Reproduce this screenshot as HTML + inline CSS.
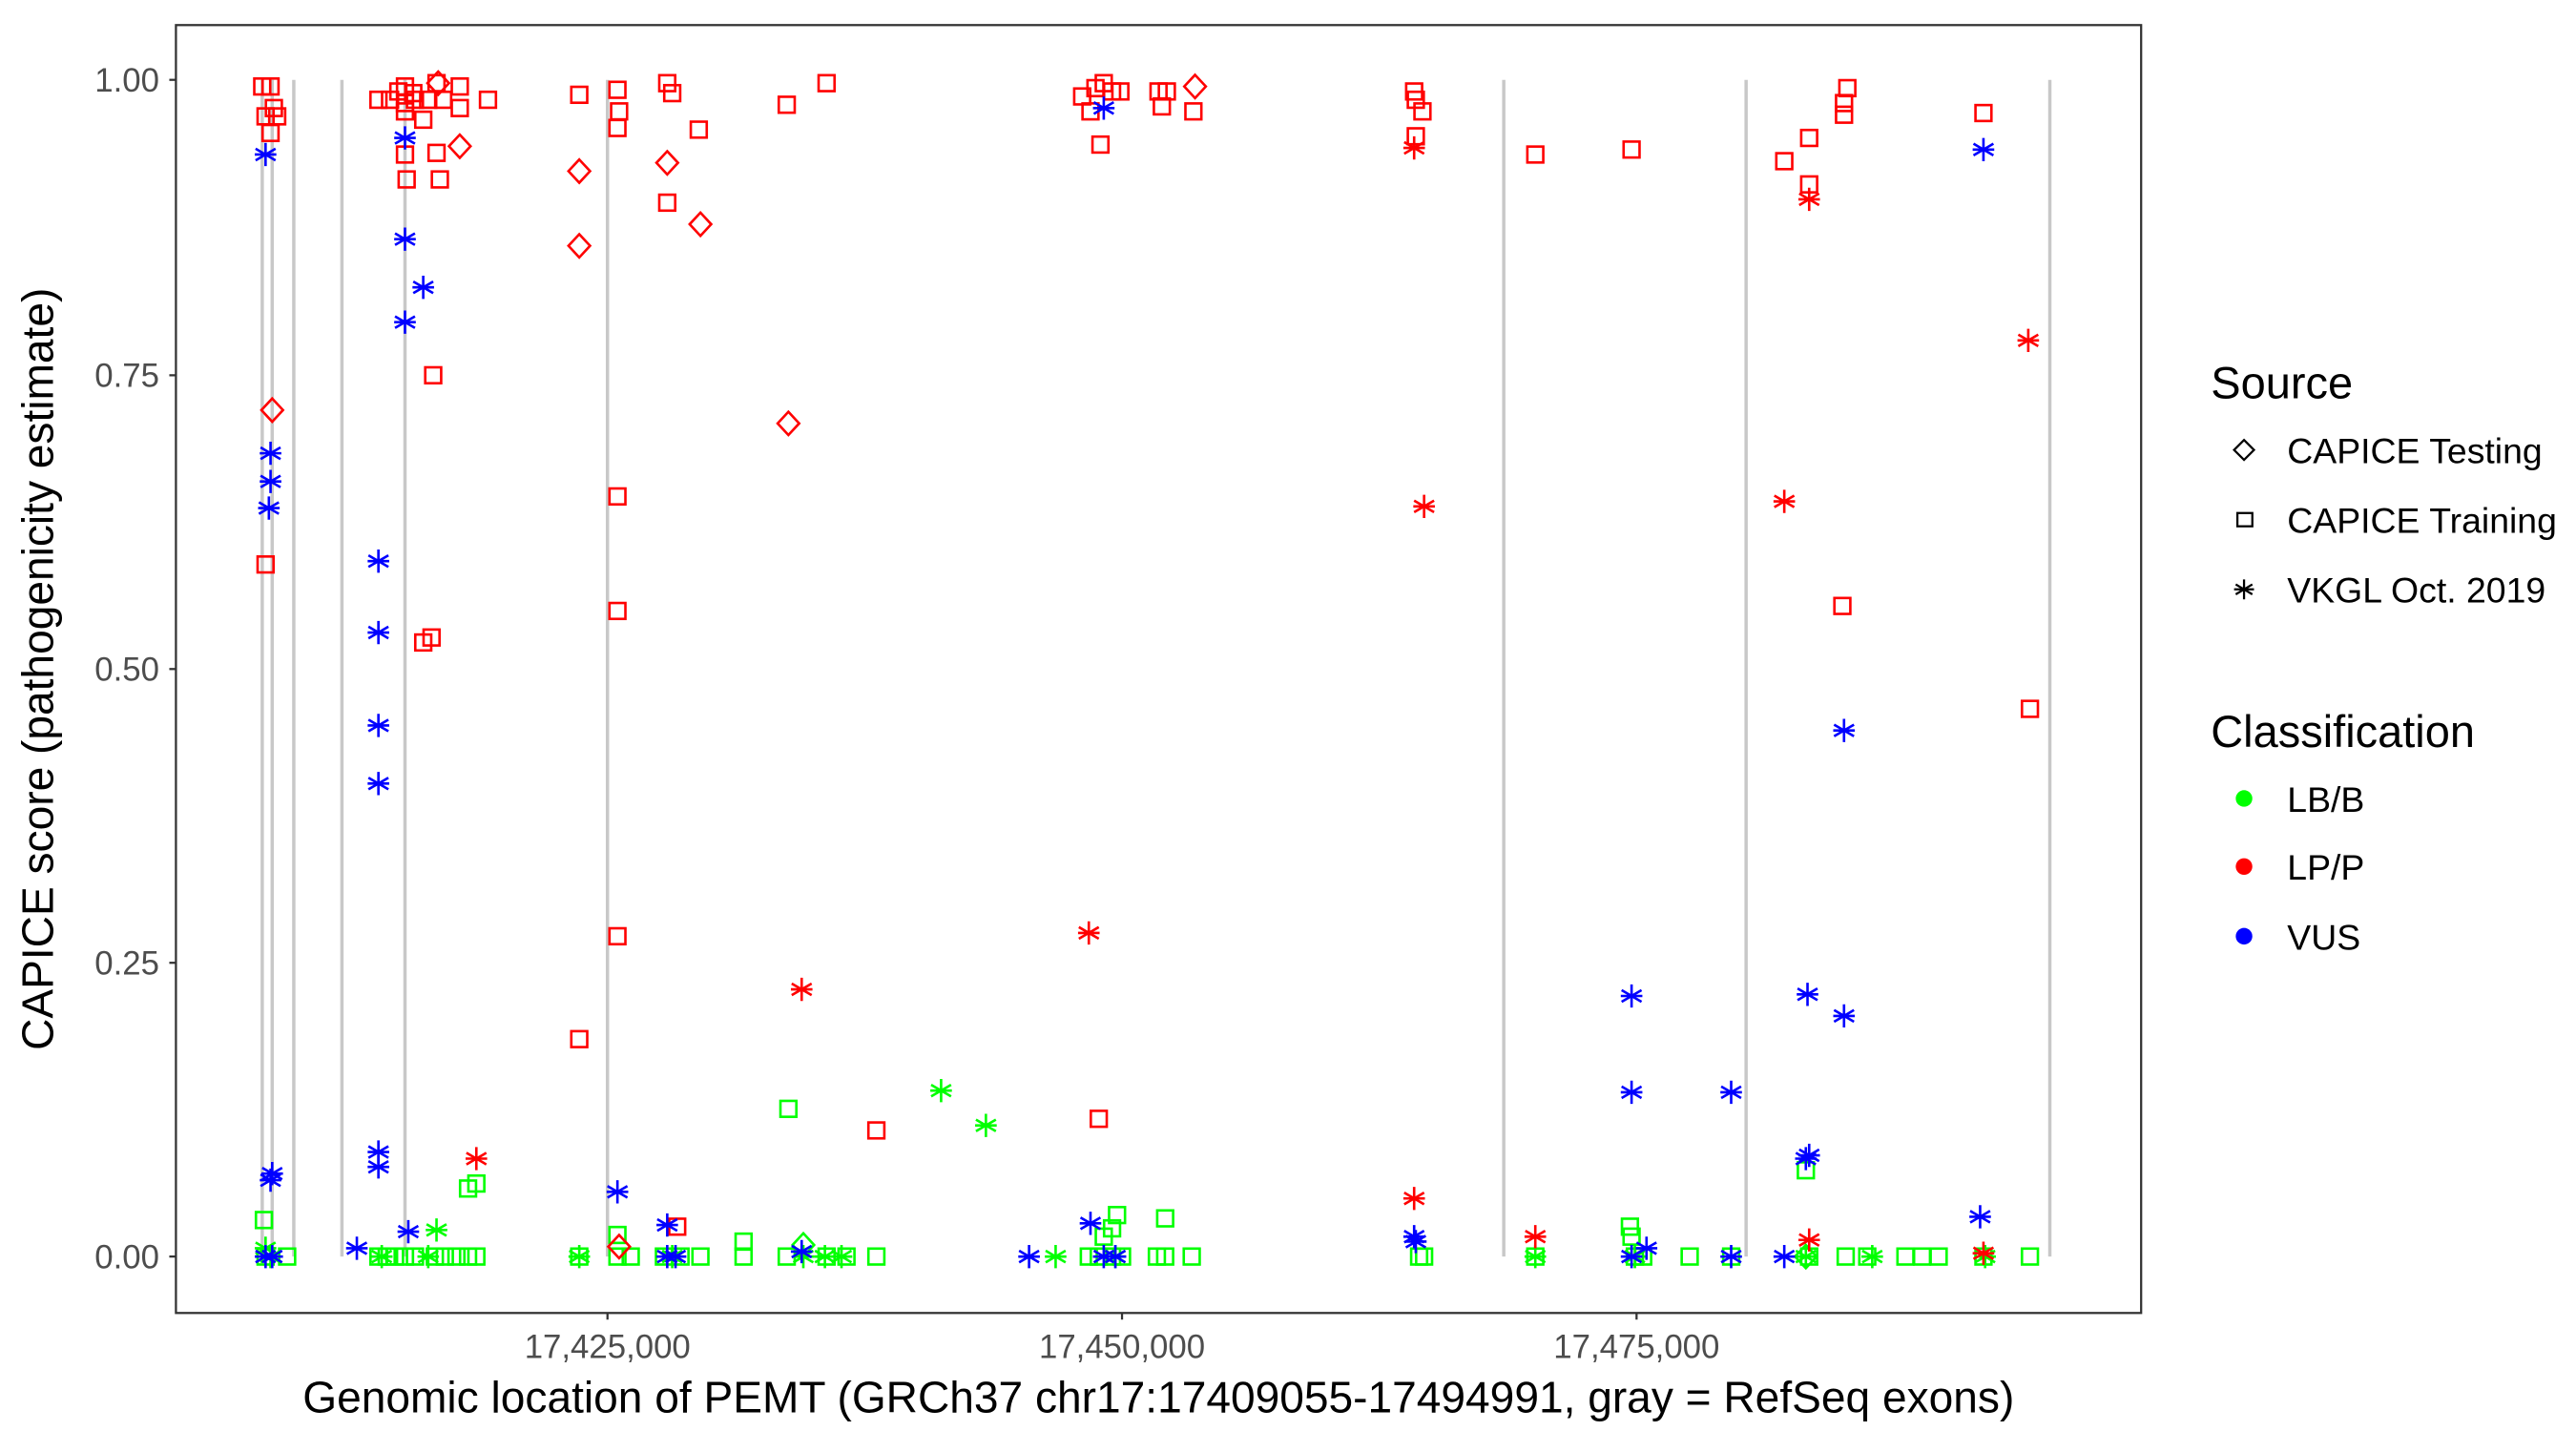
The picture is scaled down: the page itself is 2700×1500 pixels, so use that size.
<!DOCTYPE html>
<html><head><meta charset="utf-8"><style>html,body{margin:0;padding:0;background:#fff}svg{display:block}</style></head>
<body>
<svg id="s" xmlns="http://www.w3.org/2000/svg" width="2700" height="1500" viewBox="0 0 1552 862" font-family="Liberation Sans, Arial, sans-serif">
<defs>
<g id="sq"><rect x="-4.8" y="-4.8" width="9.6" height="9.6" fill="none" stroke-width="1.5"/></g>
<g id="di"><path d="M0,-7 L6.5,0 L0,7 L-6.5,0Z" fill="none" stroke-width="1.5"/></g>
<g id="as" stroke-width="1.5"><path d="M0,-7V7M-6,-3.5L6,3.5M-6,3.5L6,-3.5M-6.5,0H6.5" fill="none"/></g>
</defs>
<rect x="0" y="0" width="1552" height="862" fill="#fff"/>
<g stroke="#c8c8c8" stroke-width="2">
<line x1="158" y1="48" x2="158" y2="757"/><line x1="164" y1="48" x2="164" y2="757"/><line x1="177" y1="48" x2="177" y2="757"/>
<line x1="206" y1="48" x2="206" y2="757"/><line x1="244" y1="48" x2="244" y2="757"/><line x1="366" y1="48" x2="366" y2="757"/>
<line x1="906" y1="48" x2="906" y2="757"/><line x1="1052" y1="48" x2="1052" y2="757"/><line x1="1235" y1="48" x2="1235" y2="757"/>
</g>
<g id="pts"></g>
<rect x="106" y="15" width="1184" height="776" fill="none" stroke="#333" stroke-width="1.3"/>
<g stroke="#333" stroke-width="1.3">
<line x1="102" y1="48" x2="106" y2="48"/><line x1="102" y1="226" x2="106" y2="226"/><line x1="102" y1="403" x2="106" y2="403"/><line x1="102" y1="580" x2="106" y2="580"/><line x1="102" y1="757" x2="106" y2="757"/>
<line x1="366" y1="791" x2="366" y2="795"/><line x1="676" y1="791" x2="676" y2="795"/><line x1="986" y1="791" x2="986" y2="795"/>
</g>
<g fill="#4d4d4d" font-size="20" text-anchor="end">
<text x="96" y="55">1.00</text><text x="96" y="233">0.75</text><text x="96" y="410">0.50</text><text x="96" y="587">0.25</text><text x="96" y="764">0.00</text>
</g>
<g fill="#4d4d4d" font-size="20" text-anchor="middle">
<text x="366" y="818">17,425,000</text><text x="676" y="818">17,450,000</text><text x="986" y="818">17,475,000</text>
</g>
<text x="698" y="851" font-size="26.5" text-anchor="middle">Genomic location of PEMT (GRCh37 chr17:17409055-17494991, gray = RefSeq exons)</text>
<text transform="translate(32,403) rotate(-90)" font-size="26.5" text-anchor="middle">CAPICE score (pathogenicity estimate)</text>
<text x="1332" y="240" font-size="27">Source</text>
<path d="M1352,265 L1358,271 L1352,277 L1346,271Z" fill="none" stroke="#000" stroke-width="1.3"/>
<rect x="1348" y="309" width="9" height="8" fill="none" stroke="#000" stroke-width="1.3"/>
<path d="M1352,349V361M1347,352L1357,358M1347,358L1357,352M1346,355H1358" stroke="#000" stroke-width="1.3"/>
<g font-size="21.5"><text x="1378" y="279">CAPICE Testing</text><text x="1378" y="321">CAPICE Training</text><text x="1378" y="363">VKGL Oct. 2019</text>
<text x="1378" y="489">LB/B</text><text x="1378" y="530">LP/P</text><text x="1378" y="572">VUS</text></g>
<text x="1332" y="450" font-size="27">Classification</text>
<circle cx="1352" cy="481" r="5" fill="#00ff00"/><circle cx="1352" cy="522" r="5" fill="#ff0000"/><circle cx="1352" cy="564" r="5" fill="#0000ff"/>
</svg>
<script>
var R={sq:[[158,52],[163,52],[160,70],[165,65],[163,80],[167,70],[160,340],[228,60],[235,60],[244,52],[244,62],[244,67],[244,93],[245,108],[250,60],[255,72],[258,60],[263,50],[263,92],[265,108],[267,60],[277,52],[277,65],[294,60],[261,226],[255,387],[260,384],[249,56],[240,55],[349,57],[349,626],[372,54],[373,67],[372,77],[372,299],[372,368],[372,564],[402,50],[405,56],[402,122],[421,78],[408,739],[474,63],[498,50],[528,681],[652,58],[657,67],[660,53],[665,50],[663,87],[670,55],[675,55],[698,55],[700,64],[703,55],[719,67],[662,674],[852,55],[853,60],[853,82],[857,67],[925,93],[983,90],[1075,97],[1090,83],[1090,111],[1111,69],[1113,53],[1111,62],[1110,365],[1195,68],[1223,427]],
di:[[164,247],[264,50],[277,88],[349,103],[349,148],[373,751],[402,98],[422,135],[475,255],[720,52]],
as:[[483,596],[656,562],[852,89],[858,305],[852,722],[925,745],[1090,120],[1075,302],[1090,747],[1222,205],[1195,755],[287,698]]};
var B={as:[[160,93],[163,273],[163,290],[162,306],[164,707],[163,711],[160,757],[164,757],[244,83],[244,144],[255,173],[244,194],[228,338],[228,381],[228,437],[228,472],[228,694],[228,703],[246,742],[215,752],[372,718],[402,738],[402,757],[407,757],[483,754],[620,757],[657,737],[665,65],[665,757],[672,757],[852,745],[853,748],[983,600],[983,658],[983,757],[992,752],[1043,658],[1043,757],[1075,757],[1089,599],[1090,696],[1088,698],[1111,440],[1111,612],[1195,90],[1193,733]]};
var gx=[160,173,228,233,238,244,250,262,268,275,282,287,349,372,380,400,410,422,448,474,498,510,528,656,662,670,676,697,702,718,855,858,925,985,990,1018,1043,1090,1112,1125,1148,1158,1168,1195,1223];
var G={sq:gx.map(function(x){return [x,757]}).concat([[159,735],[282,716],[287,713],[448,748],[475,668],[673,732],[670,740],[665,745],[702,734],[982,739],[983,745],[1088,705],[372,744]]),
as:[[160,752],[163,757],[263,741],[349,757],[405,757],[567,657],[594,678],[636,757],[484,757],[497,757],[507,757],[1196,757],[1088,757],[1128,757],[925,757],[985,757],[672,757],[230,757],[258,757]],
di:[[484,750],[1088,757]]};
var g=document.getElementById('pts'),h='';
[[G,'#00ff00'],[R,'#ff0000'],[B,'#0000ff']].forEach(function(p){for(var k in p[0])p[0][k].forEach(function(c){h+='<use href="#'+k+'" x="'+c[0]+'" y="'+c[1]+'" stroke="'+p[1]+'"/>';});});
g.innerHTML=h;
</script>
</body></html>
